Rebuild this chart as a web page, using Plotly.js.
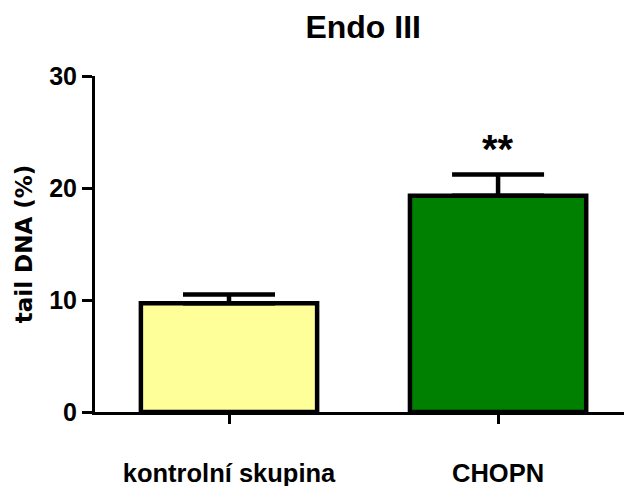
<!DOCTYPE html>
<html>
<head>
<meta charset="utf-8">
<script src="https://cdn.plot.ly/plotly-3.0.1.min.js"></script>
<style>html,body{margin:0;padding:0;background:#fff;}#chart{width:624px;height:486px;}</style>
</head>
<body>
<div id="chart"></div>
<script>
const categories = ["kontrolní skupina", "CHOPN"];
const means = [9.7, 19.3];
const errorsUp = [0.8, 1.9];
const barColors = ["#FFFF99", "#008000"];
const significance = ["", "**"];
const yTicks = [0, 10, 20, 30];

const font = "Liberation Sans, Arial, sans-serif";

const trace = {
  type: "bar",
  x: categories,
  y: means,
  width: 0.655,
  marker: { color: barColors, line: { color: "#000", width: 4.5 } },
  error_y: { type: "data", array: errorsUp, arrayminus: [0, 0], symmetric: false,
             color: "#000", thickness: 4.5, width: 46 },
  hoverinfo: "none"
};

const annotations = categories.map((c, i) => ({
  x: c, y: means[i] + errorsUp[i], xref: "x", yref: "y",
  text: significance[i], showarrow: false, yanchor: "bottom", yshift: 2,
  font: { family: font, size: 40, color: "#000", weight: "bold" }
})).filter(a => a.text);

const layout = {
  width: 624, height: 486,
  margin: { l: 95, r: 0, t: 76, b: 74 },
  paper_bgcolor: "#fff", plot_bgcolor: "#fff",
  showlegend: false,
  title: { text: "<b>Endo III</b>", x: 0.582, xanchor: "center", y: 0.945, yanchor: "middle",
           font: { family: font, size: 32, color: "#000" } },
  xaxis: {
    range: [-0.498, 1.468], showgrid: false, zeroline: false,
    showline: true, linecolor: "#000", linewidth: 3,
    ticks: "outside", ticklen: 9, tickwidth: 3, tickcolor: "#000",
    ticklabelstandoff: 27,
    tickfont: { family: font, size: 25.5, color: "#000", weight: "bold" }
  },
  yaxis: {
    range: [0, 30], tickvals: yTicks, ticktext: yTicks.map(String),
    showgrid: false, zeroline: false,
    showline: true, linecolor: "#000", linewidth: 3,
    ticks: "outside", ticklen: 10, tickwidth: 3, tickcolor: "#000",
    tickfont: { family: font, size: 25, color: "#000", weight: "bold" },
    title: { text: "<b>tail DNA (%)</b>", standoff: 11,
             font: { family: "DejaVu Sans, Liberation Sans, sans-serif", size: 23, color: "#000" } }
  },
  annotations: annotations
};

Plotly.newPlot("chart", [trace], layout, { staticPlot: true, displayModeBar: false });
</script>
</body>
</html>
